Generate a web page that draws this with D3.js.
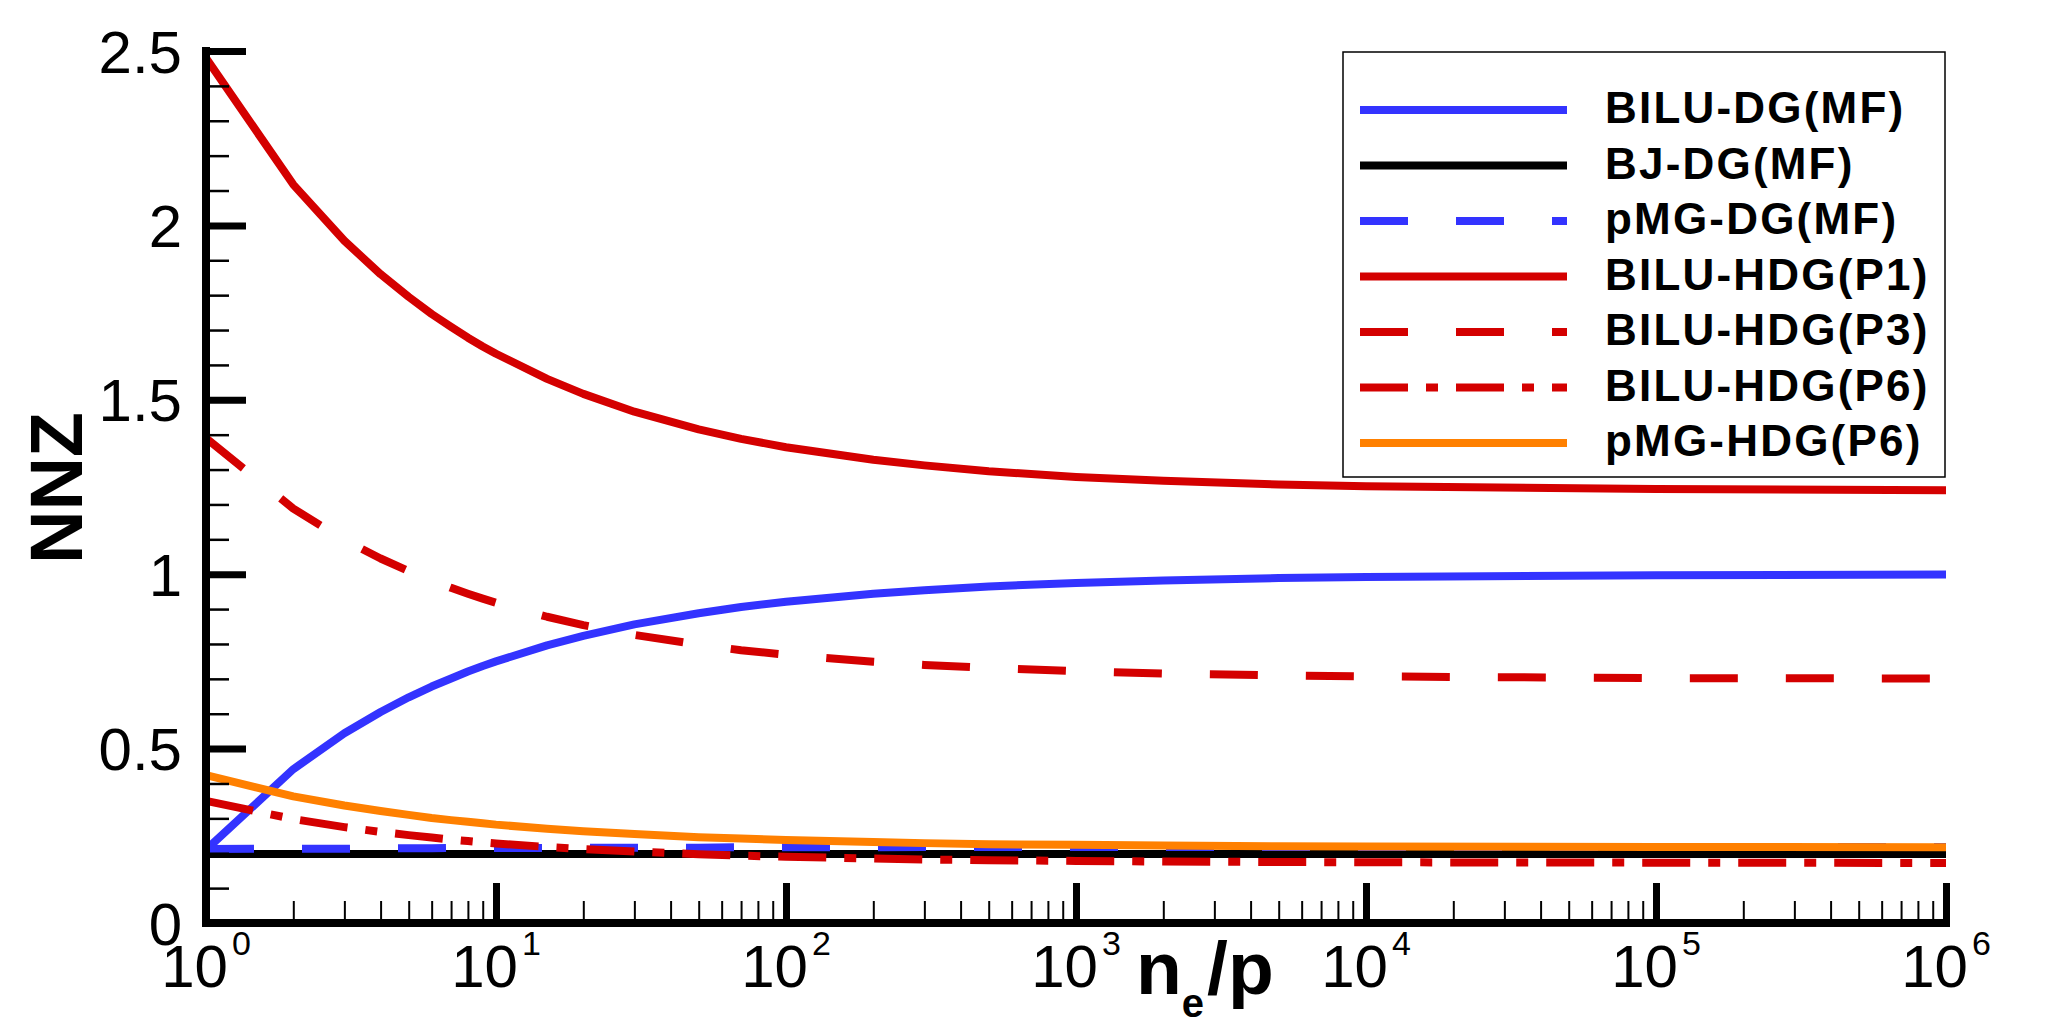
<!DOCTYPE html>
<html>
<head>
<meta charset="utf-8">
<script src="https://cdn.jsdelivr.net/npm/d3@7"></script>
<style>
  body { margin: 0; background: #fff; }
  svg { display: block; }
  .tick-label { font-family: "Liberation Sans", Arial, sans-serif; font-size: 60px; fill: #000; }
</style>
</head>
<body>
<div id="chart"></div>
<script>
// données (ne/p, NNZ)
const nValues = [1, 2, 3, 4, 5, 6, 7, 8, 9, 10, 15, 20, 30, 50, 70, 100, 200, 300, 500, 1000, 2000, 5000, 1e4, 1e5, 1e6];
const biluDG  = [0.210, 0.441, 0.544, 0.605, 0.647, 0.678, 0.701, 0.721, 0.737, 0.750, 0.796, 0.823, 0.856, 0.888, 0.906, 0.921, 0.944, 0.954, 0.965, 0.975, 0.982, 0.989, 0.992, 0.997, 0.999];
const bjDG    = [0.198, 0.198, 0.198, 0.198, 0.198, 0.198, 0.198, 0.198, 0.198, 0.198, 0.198, 0.198, 0.198, 0.198, 0.198, 0.198, 0.198, 0.198, 0.198, 0.198, 0.198, 0.198, 0.198, 0.198, 0.198];
const pmgDG   = [0.212, 0.213, 0.213, 0.214, 0.214, 0.214, 0.215, 0.215, 0.215, 0.215, 0.215, 0.216, 0.216, 0.216, 0.217, 0.217, 0.217, 0.218, 0.218, 0.218, 0.218, 0.218, 0.218, 0.218, 0.218];
const biluP1  = [2.480, 2.117, 1.956, 1.860, 1.795, 1.746, 1.709, 1.678, 1.653, 1.632, 1.560, 1.517, 1.466, 1.415, 1.388, 1.364, 1.328, 1.312, 1.295, 1.279, 1.268, 1.257, 1.252, 1.244, 1.241];
const biluP3  = [1.390, 1.188, 1.098, 1.045, 1.009, 0.982, 0.961, 0.944, 0.930, 0.918, 0.878, 0.854, 0.826, 0.798, 0.782, 0.769, 0.749, 0.740, 0.731, 0.722, 0.715, 0.710, 0.707, 0.702, 0.701];
const biluP6  = [0.350, 0.298, 0.275, 0.261, 0.252, 0.245, 0.239, 0.235, 0.231, 0.228, 0.218, 0.212, 0.205, 0.197, 0.193, 0.190, 0.185, 0.182, 0.180, 0.178, 0.176, 0.175, 0.174, 0.173, 0.172];
const pmgP6   = [0.424, 0.363, 0.337, 0.321, 0.310, 0.301, 0.295, 0.290, 0.286, 0.282, 0.270, 0.263, 0.255, 0.246, 0.242, 0.238, 0.232, 0.229, 0.226, 0.224, 0.222, 0.220, 0.219, 0.218, 0.217];

const seriesNames = ["BILU-DG(MF)", "BJ-DG(MF)", "pMG-DG(MF)", "BILU-HDG(P1)", "BILU-HDG(P3)", "BILU-HDG(P6)", "pMG-HDG(P6)"];
const seriesValues = [biluDG, bjDG, pmgDG, biluP1, biluP3, biluP6, pmgP6];

const xMajorTicks = [1, 10, 100, 1000, 1e4, 1e5, 1e6];
const xTickExponents = ["0", "1", "2", "3", "4", "5", "6"];
const yMajorTicks = [0, 0.5, 1, 1.5, 2, 2.5];
const yTickLabels = ["0", "0.5", "1", "1.5", "2", "2.5"];

// styles des courbes
const colors = ["#3333ff", "#000000", "#3333ff", "#d40000", "#d40000", "#d40000", "#ff8000"];
const dashes = [null, null, "48,48", null, "48,48", "48,18,12,18", null];

const width = 2048, height = 1028;
const svg = d3.select("#chart").append("svg")
  .attr("width", width).attr("height", height);
svg.append("rect").attr("width", width).attr("height", height).attr("fill", "#fff");

const x = d3.scaleLog().domain([1, 1e6]).range([206, 1946]);
const y = d3.scaleLinear().domain([0, 2.5]).range([923, 51]);

// ticks mineurs
const xMinorTicks = [];
for (let k = 0; k < 6; k++) for (let m = 2; m <= 9; m++) xMinorTicks.push(m * Math.pow(10, k));
const yMinorTicks = d3.range(1, 25).map(i => i / 10).filter(v => Math.abs(v * 2 - Math.round(v * 2)) > 1e-6);

// courbes
const line = d3.line().x(d => x(d[0])).y(d => y(d[1]));
seriesValues.forEach((vals, i) => {
  svg.append("path")
    .datum(nValues.map((n, j) => [n, vals[j]]))
    .attr("d", line)
    .attr("fill", "none")
    .attr("stroke", colors[i])
    .attr("stroke-width", 8)
    .attr("stroke-dasharray", dashes[i])
    .attr("stroke-linejoin", "round");
});

// axes
function styleAxis(g, w) {
  g.select(".domain").remove();
  g.selectAll(".tick line").attr("stroke", "#000").attr("stroke-width", w);
  g.selectAll(".tick text").remove();
}
svg.append("g").attr("transform", "translate(0,923)")
  .call(d3.axisBottom(x).tickValues(xMinorTicks).tickSize(-22).tickSizeOuter(0))
  .call(g => styleAxis(g, 2));
svg.append("g").attr("transform", "translate(0,923)")
  .call(d3.axisBottom(x).tickValues(xMajorTicks).tickSize(-40).tickSizeOuter(0))
  .call(g => styleAxis(g, 7));
svg.append("g").attr("transform", "translate(206,0)")
  .call(d3.axisLeft(y).tickValues(yMinorTicks).tickSize(-23).tickSizeOuter(0))
  .call(g => styleAxis(g, 2.5));
svg.append("g").attr("transform", "translate(206,0)")
  .call(d3.axisLeft(y).tickValues(yMajorTicks).tickSize(-40).tickSizeOuter(0))
  .call(g => styleAxis(g, 7));

// lignes d'axe
svg.append("line").attr("x1", 206).attr("x2", 206).attr("y1", y(2.5)).attr("y2", y(0))
  .attr("stroke", "#000").attr("stroke-width", 8).attr("stroke-linecap", "square");
svg.append("line").attr("x1", x(1)).attr("x2", x(1e6)).attr("y1", y(0)).attr("y2", y(0))
  .attr("stroke", "#000").attr("stroke-width", 8).attr("stroke-linecap", "square");

// étiquettes y
svg.selectAll(".ylab").data(yMajorTicks).enter().append("text")
  .attr("class", "tick-label")
  .attr("x", 182).attr("y", d => y(d) + 21.5)
  .attr("text-anchor", "end")
  .text((d, i) => yTickLabels[i]);

// étiquettes x (10^k)
xMajorTicks.forEach((v, i) => {
  const t = svg.append("text").attr("class", "tick-label")
    .attr("x", x(v)).attr("y", 987).attr("text-anchor", "middle");
  t.append("tspan").text("10");
  t.append("tspan").attr("font-size", 34).attr("dx", 4).attr("dy", -32).text(xTickExponents[i]);
});

// titres des axes
const xt = svg.append("text")
  .attr("x", 1136).attr("y", 994)
  .attr("font-family", "Liberation Sans, Arial, sans-serif")
  .attr("font-weight", "bold").attr("font-size", 75);
xt.append("tspan").text("n");
xt.append("tspan").attr("font-size", 40).attr("dy", 23).text("e");
xt.append("tspan").attr("dy", -23).attr("dx", 3).text("/p");

svg.append("text")
  .attr("transform", "translate(82,488) rotate(-90)")
  .attr("text-anchor", "middle")
  .attr("font-family", "Liberation Sans, Arial, sans-serif")
  .attr("font-weight", "bold").attr("font-size", 74)
  .text("NNZ");

// légende
const legend = svg.append("g");
legend.append("rect")
  .attr("x", 1343).attr("y", 52).attr("width", 602).attr("height", 425)
  .attr("fill", "#fff").attr("stroke", "#000").attr("stroke-width", 1.5);
seriesNames.forEach((name, i) => {
  const ly = 110 + i * 55.5;
  legend.append("line")
    .attr("x1", 1360).attr("x2", 1567).attr("y1", ly).attr("y2", ly)
    .attr("stroke", colors[i]).attr("stroke-width", 8)
    .attr("stroke-dasharray", dashes[i]);
  legend.append("text")
    .attr("x", 1605).attr("y", ly + 13)
    .attr("font-family", "Liberation Sans, Arial, sans-serif")
    .attr("font-weight", "bold").attr("font-size", 44)
    .attr("letter-spacing", 2.2)
    .text(name);
});
</script>
</body>
</html>
